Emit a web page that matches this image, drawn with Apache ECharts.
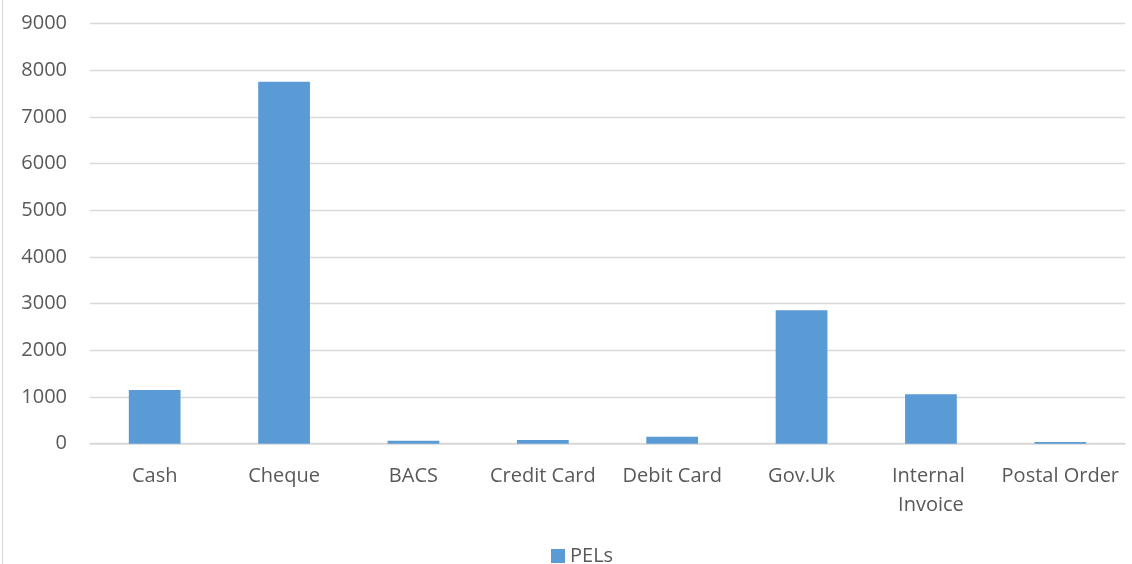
<!DOCTYPE html>
<html><head><meta charset="utf-8">
<script src="https://cdn.jsdelivr.net/npm/echarts@6/dist/echarts.min.js"></script>
<style>html,body{margin:0;padding:0;background:#fff}#c{width:1132px;height:564px}</style>
</head><body><div id="c"></div>
<script>
const categories = ["Cash","Cheque","BACS","Credit Card","Debit Card","Gov.Uk","Internal Invoice","Postal Order"];
const pels = [1150, 7750, 65, 80, 150, 2860, 1060, 35];
const seriesName = "PELs";
const FONT = "'Open Sans', sans-serif";
const TXT = "#595959";
const chart = echarts.init(document.getElementById('c'), null, {renderer:'canvas'});
chart.setOption({
  animation:false,
  backgroundColor:'#fff',
  grid:{left:90, right:7, top:23.4, bottom:120.3, containLabel:false},
  graphic:[{type:'line', shape:{x1:2.5,y1:0,x2:2.5,y2:564}, style:{stroke:'#d9d9d9', lineWidth:1}}],
  legend:{data:[seriesName], left:551, top:544, padding:0, itemWidth:14, itemHeight:14, itemGap:6, icon:'rect',
    textStyle:{fontFamily:FONT, fontSize:20, color:TXT, lineHeight:24}},
  xAxis:{type:'category', data:categories,
    axisLine:{lineStyle:{color:'#d9d9d9', width:1.5}},
    axisTick:{show:false},
    axisLabel:{fontFamily:FONT, fontSize:20, color:TXT, margin:18, lineHeight:29, width:128, overflow:'break', interval:0}},
  yAxis:{type:'value', min:0, max:9000, interval:1000,
    axisLine:{show:false}, axisTick:{show:false},
    splitLine:{lineStyle:{color:'#d9d9d9', width:1.3}},
    axisLabel:{fontFamily:FONT, fontSize:20, color:TXT, margin:23, formatter:function(v){return String(v);}}},
  series:[{name:seriesName, type:'bar', data:pels, barCategoryGap:'60%',
    itemStyle:{color:'#5b9bd5'}}]
});
</script></body></html>
